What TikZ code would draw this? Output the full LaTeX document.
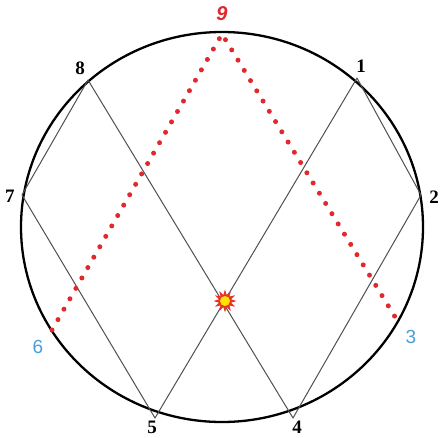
\documentclass[tikz,border=0pt]{standalone}
\usepackage{fontspec}
\newfontfamily\labfont{Liberation Serif}
\newfontfamily\sanslab{Liberation Sans}
\usetikzlibrary{shapes.geometric}
\definecolor{dotred}{RGB}{225,40,45}
\definecolor{lblue}{RGB}{70,160,215}
\definecolor{chord}{RGB}{80,80,80}
\tikzset{
  chordline/.style={draw=chord, line width=1pt, line join=round},
  redpath/.style={draw=dotred, line width=5pt, line cap=round, dash pattern=on 0pt off 12pt},
  blacklab/.style={font=\labfont\bfseries\fontsize{19}{19}\selectfont, text=black, inner sep=0pt},
  bluelab/.style={font=\sanslab\fontsize{19}{19}\selectfont, text=lblue, inner sep=0pt},
  redlab/.style={font=\sanslab\bfseries\itshape\fontsize{20}{20}\selectfont, text=dotred, inner sep=0pt},
}
\begin{document}
\begin{tikzpicture}[x=1pt,y=-1pt]
\useasboundingbox (0,0) rectangle (444,437);
\fill[white] (0,0) rectangle (444,437);
\coordinate (O) at (222,227);
\draw[black, line width=2.3pt] (O) ellipse [x radius=201, y radius=195];
% points on the rim
\coordinate (p9) at (222,34);
\coordinate (p8) at (88,80);
\coordinate (p1) at (357,78);
\coordinate (p7) at (22,195);
\coordinate (p2) at (421,195);
\coordinate (p6) at (52,330);
\coordinate (p3) at (400,325);
\coordinate (p5) at (155,418);
\coordinate (p4) at (293,418);
% chords
\draw[chordline] (p8) -- (p7) -- (p5) -- (p1) -- (p2) -- (p4) -- cycle;
% red dotted path
\draw[redpath] (p6) -- (p9) -- (p3);
% burst
\node[star, star points=12, star point ratio=1.8, minimum size=23pt, inner sep=0pt, fill=dotred!85!orange] (burst) at (225,301) {};
\node[circle, fill=yellow!85!orange, minimum size=10pt, inner sep=0pt] (core) at (burst.center) {};
% labels
\node[redlab] (l9) at (222,14) {9};
\node[blacklab] (l8) at (80,68) {8};
\node[blacklab] (l1) at (361,66) {1};
\node[blacklab] (l7) at (10,196) {7};
\node[blacklab] (l2) at (434,197) {2};
\node[bluelab] (l6) at (38,347) {6};
\node[bluelab] (l3) at (411,337) {3};
\node[blacklab] (l5) at (152,427) {5};
\node[blacklab] (l4) at (297,427) {4};
\end{tikzpicture}
\end{document}
